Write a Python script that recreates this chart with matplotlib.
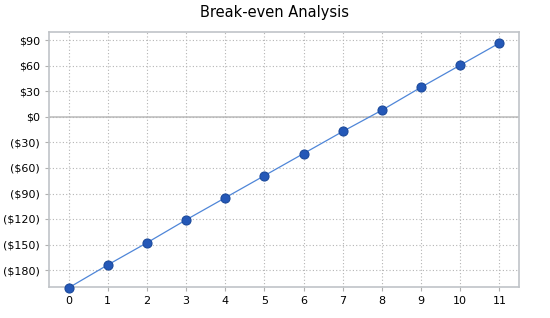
import matplotlib
matplotlib.use("Agg")
import matplotlib.pyplot as plt
from matplotlib.ticker import FuncFormatter

months = list(range(12))
net_profit = [-201, -174, -148, -121, -95, -69, -43, -17, 8, 35, 61, 87]
y_ticks = [-180, -150, -120, -90, -60, -30, 0, 30, 60, 90]


def money(v, _pos=None):
    v = int(round(v))
    return f"(${-v})" if v < 0 else f"${v}"


fig = plt.figure(figsize=(5.5, 3.18), dpi=100)
ax = fig.add_axes([49 / 550, 1 - 287 / 318, 470 / 550, 255 / 318])

ax.set_xlim(-0.5, 11.5)
ax.set_ylim(-200, 100)
ax.set_xticks(months)
ax.set_yticks(y_ticks)
ax.yaxis.set_major_formatter(FuncFormatter(money))

ax.grid(True, color="#b4b4b4", linestyle=(0, (1, 2)), linewidth=0.8)
ax.axhline(0, color="#c0c0c0", linewidth=1.2, zorder=1)
for s in ax.spines.values():
    s.set_color("#c0c4c8")
    s.set_linewidth(1.2)
ax.tick_params(colors="#b0b0b0", labelcolor="black", labelsize=8, length=3, width=0.8)

ax.plot(months, net_profit, color="#4f86d8", linewidth=0.9, marker="o", markersize=6.5,
        markerfacecolor="#2458b8", markeredgecolor="#1c4a9c", markeredgewidth=0.8,
        zorder=3, clip_on=False)

fig.text(0.5, 1 - 13 / 318, "Break-even Analysis", ha="center", va="center", fontsize=10.5)

fig.savefig("out.png", dpi=100)
